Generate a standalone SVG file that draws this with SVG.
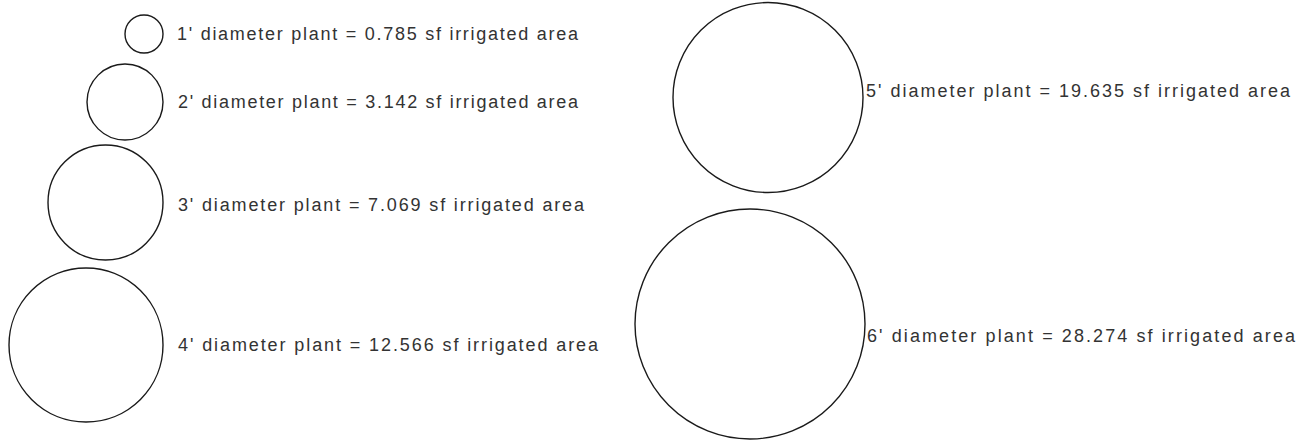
<svg xmlns="http://www.w3.org/2000/svg" width="1307" height="444" viewBox="0 0 1307 444">
<style>
.c{fill:none;stroke:#1a1a1a;stroke-width:1.4}
.t{font-family:"Liberation Sans",Arial,sans-serif;font-size:18px;fill:#333}
</style>
<rect width="1307" height="444" fill="#fff"/>
<g id="plant1"><circle class="c" cx="144" cy="34" r="19"/><text class="t" x="177" y="40" textLength="401" lengthAdjust="spacing">1' diameter plant = 0.785 sf irrigated area</text></g>
<g id="plant2"><circle class="c" cx="125" cy="102" r="38"/><text class="t" x="178" y="108" textLength="400" lengthAdjust="spacing">2' diameter plant = 3.142 sf irrigated area</text></g>
<g id="plant3"><circle class="c" cx="105.5" cy="202.5" r="57.5"/><text class="t" x="178" y="211" textLength="406" lengthAdjust="spacing">3' diameter plant = 7.069 sf irrigated area</text></g>
<g id="plant4"><circle class="c" cx="86" cy="345" r="77"/><text class="t" x="178" y="351" textLength="420" lengthAdjust="spacing">4' diameter plant = 12.566 sf irrigated area</text></g>
<g id="plant5"><circle class="c" cx="768" cy="97.5" r="95"/><text class="t" x="866" y="97" textLength="424" lengthAdjust="spacing">5' diameter plant = 19.635 sf irrigated area</text></g>
<g id="plant6"><circle class="c" cx="750" cy="324" r="115"/><text class="t" x="867" y="342" textLength="428" lengthAdjust="spacing">6' diameter plant = 28.274 sf irrigated area</text></g>
<g id="connectors"></g>
</svg>
